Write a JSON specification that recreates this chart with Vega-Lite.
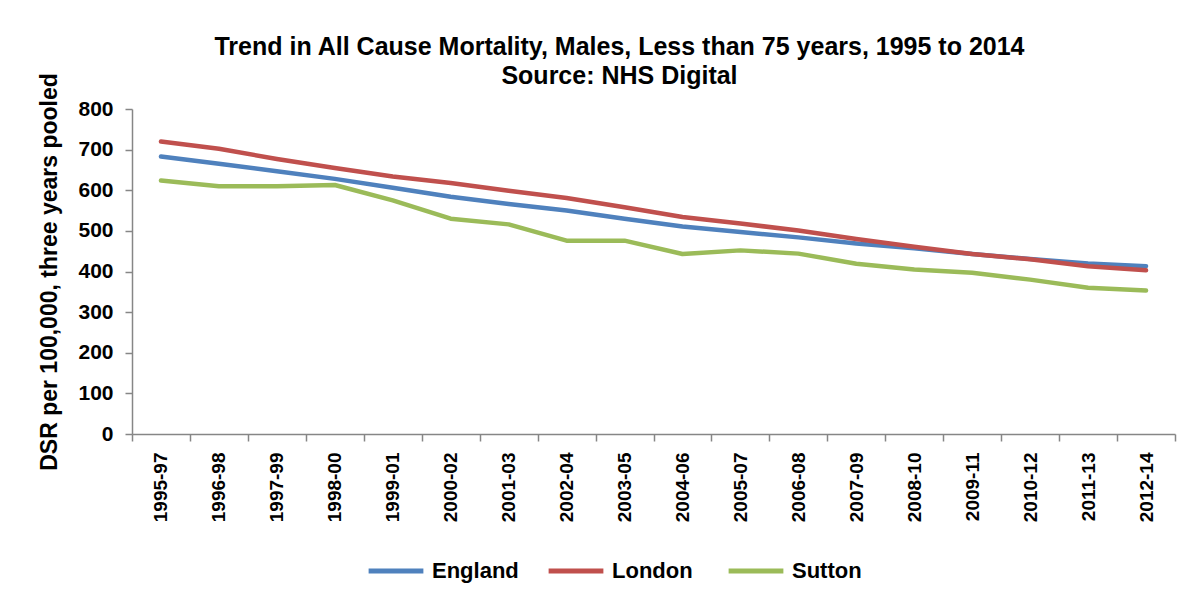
{
  "$schema": "https://vega.github.io/schema/vega-lite/v6.json",
  "autosize": {"type": "none"},
  "width": 1043,
  "height": 325,
  "padding": {"left": 132, "top": 109, "right": 25, "bottom": 164},
  "background": "white",
  "title": {
    "text": ["Trend in All Cause Mortality, Males, Less than 75 years, 1995 to 2014", "Source: NHS Digital"],
    "font": "Liberation Sans",
    "fontSize": 25,
    "fontWeight": "bold",
    "color": "black",
    "anchor": "middle",
    "dx": -34,
    "offset": -16,
    "lineHeight": 29
  },
  "data": {
    "values": [
      {"period": "1995-97", "area": "England", "dsr": 683},
      {"period": "1996-98", "area": "England", "dsr": 665},
      {"period": "1997-99", "area": "England", "dsr": 647},
      {"period": "1998-00", "area": "England", "dsr": 628},
      {"period": "1999-01", "area": "England", "dsr": 606},
      {"period": "2000-02", "area": "England", "dsr": 584},
      {"period": "2001-03", "area": "England", "dsr": 566},
      {"period": "2002-04", "area": "England", "dsr": 550},
      {"period": "2003-05", "area": "England", "dsr": 530},
      {"period": "2004-06", "area": "England", "dsr": 511},
      {"period": "2005-07", "area": "England", "dsr": 497},
      {"period": "2006-08", "area": "England", "dsr": 484},
      {"period": "2007-09", "area": "England", "dsr": 469},
      {"period": "2008-10", "area": "England", "dsr": 457},
      {"period": "2009-11", "area": "England", "dsr": 443},
      {"period": "2010-12", "area": "England", "dsr": 431},
      {"period": "2011-13", "area": "England", "dsr": 420},
      {"period": "2012-14", "area": "England", "dsr": 413},
      {"period": "1995-97", "area": "London", "dsr": 720},
      {"period": "1996-98", "area": "London", "dsr": 702},
      {"period": "1997-99", "area": "London", "dsr": 677},
      {"period": "1998-00", "area": "London", "dsr": 655},
      {"period": "1999-01", "area": "London", "dsr": 634},
      {"period": "2000-02", "area": "London", "dsr": 618},
      {"period": "2001-03", "area": "London", "dsr": 599},
      {"period": "2002-04", "area": "London", "dsr": 581},
      {"period": "2003-05", "area": "London", "dsr": 558},
      {"period": "2004-06", "area": "London", "dsr": 534},
      {"period": "2005-07", "area": "London", "dsr": 518},
      {"period": "2006-08", "area": "London", "dsr": 501},
      {"period": "2007-09", "area": "London", "dsr": 480},
      {"period": "2008-10", "area": "London", "dsr": 461},
      {"period": "2009-11", "area": "London", "dsr": 443},
      {"period": "2010-12", "area": "London", "dsr": 430},
      {"period": "2011-13", "area": "London", "dsr": 413},
      {"period": "2012-14", "area": "London", "dsr": 403},
      {"period": "1995-97", "area": "Sutton", "dsr": 624},
      {"period": "1996-98", "area": "Sutton", "dsr": 610},
      {"period": "1997-99", "area": "Sutton", "dsr": 610},
      {"period": "1998-00", "area": "Sutton", "dsr": 613},
      {"period": "1999-01", "area": "Sutton", "dsr": 575},
      {"period": "2000-02", "area": "Sutton", "dsr": 530},
      {"period": "2001-03", "area": "Sutton", "dsr": 516},
      {"period": "2002-04", "area": "Sutton", "dsr": 476},
      {"period": "2003-05", "area": "Sutton", "dsr": 476},
      {"period": "2004-06", "area": "Sutton", "dsr": 443},
      {"period": "2005-07", "area": "Sutton", "dsr": 452},
      {"period": "2006-08", "area": "Sutton", "dsr": 444},
      {"period": "2007-09", "area": "Sutton", "dsr": 419},
      {"period": "2008-10", "area": "Sutton", "dsr": 405},
      {"period": "2009-11", "area": "Sutton", "dsr": 397},
      {"period": "2010-12", "area": "Sutton", "dsr": 380},
      {"period": "2011-13", "area": "Sutton", "dsr": 360},
      {"period": "2012-14", "area": "Sutton", "dsr": 353}
    ]
  },
  "mark": {"type": "line", "strokeWidth": 4.5, "strokeCap": "round", "strokeJoin": "round"},
  "encoding": {
    "x": {
      "field": "period",
      "type": "ordinal",
      "sort": null,
      "scale": {"type": "band", "paddingInner": 0, "paddingOuter": 0},
      "axis": {
        "title": null,
        "labelAngle": -90,
        "labelFont": "Liberation Sans",
        "labelFontSize": 19,
        "labelFontWeight": "bold",
        "labelColor": "black",
        "labelPadding": 11,
        "tickBand": "extent",
        "tickSize": 7,
        "tickColor": "#868686",
        "tickWidth": 1.5,
        "domainColor": "#868686",
        "domainWidth": 1.5,
        "grid": false
      }
    },
    "y": {
      "field": "dsr",
      "type": "quantitative",
      "scale": {"domain": [0, 800], "nice": false},
      "axis": {
        "title": "DSR per 100,000, three years pooled",
        "titleFont": "Liberation Sans",
        "titleFontSize": 23,
        "titleFontWeight": "bold",
        "titleColor": "black",
        "titlePadding": 16,
        "values": [0, 100, 200, 300, 400, 500, 600, 700, 800],
        "labelFont": "Liberation Sans",
        "labelFontSize": 21,
        "labelFontWeight": "bold",
        "labelColor": "black",
        "labelPadding": 12,
        "tickSize": 7,
        "tickColor": "#868686",
        "tickWidth": 1.5,
        "domainColor": "#868686",
        "domainWidth": 1.5,
        "grid": false
      }
    },
    "color": {
      "field": "area",
      "type": "nominal",
      "scale": {"domain": ["England", "London", "Sutton"], "range": ["#4F81BD", "#C0504D", "#9BBB59"]},
      "legend": {
        "title": null,
        "orient": "none",
        "legendX": 234,
        "legendY": 432,
        "direction": "horizontal",
        "symbolType": "stroke",
        "symbolSize": 3000,
        "symbolStrokeWidth": 5,
        "labelFont": "Liberation Sans",
        "labelFontSize": 22,
        "labelFontWeight": "bold",
        "labelColor": "black",
        "labelOffset": 6,
        "columnPadding": 19,
        "gridAlign": "all"
      }
    }
  },
  "config": {"view": {"stroke": null}}
}
